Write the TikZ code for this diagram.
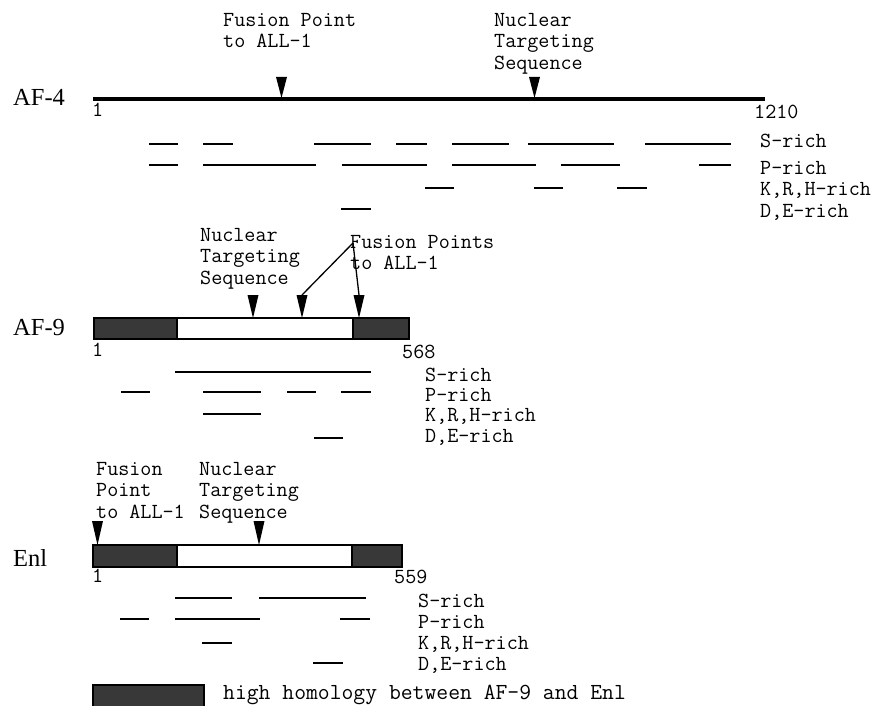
\documentclass[tikz,border=0pt]{standalone}
\usepackage{fontspec}
\newfontfamily\seriff{Liberation Serif}
\begin{document}
\begin{tikzpicture}[x=1pt,y=-1pt,
  txt/.style={inner sep=0pt,font=\ttfamily\fontsize{21.5}{21.5}\selectfont,align=left},
  protname/.style={inner sep=0pt,anchor=base west,font=\seriff\fontsize{24.5}{26}\selectfont},
  seg/.style={line width=2.6pt},
  axisline/.style={line width=4pt},
  boxline/.style={line width=1.8pt},
  dark/.style={fill=black!78},
  pinhead/.style={fill=black}]
\useasboundingbox (0,0) rectangle (875,706);

% ---------------- AF-4 ----------------
\node[protname] (af4) at (13,106) {AF-4};
\coordinate (af4s) at (93,99);
\coordinate (af4e) at (765,99);
\draw[axisline] (af4s) -- (af4e);
\node[txt,anchor=base west] (af4one) at (92,117) {1};
\node[txt,anchor=base west] (af4end) at (754,119) {1210};
\node[txt,anchor=north west] (af4fp) at (223,13) {Fusion Point\\to ALL-1};
\node[txt,anchor=north west] (af4nts) at (494,13) {Nuclear\\Targeting\\Sequence};
\fill[pinhead] (276,77) -- (287,77) -- (281.5,98) -- cycle;
\fill[pinhead] (529,77) -- (540,77) -- (534.5,98) -- cycle;

\foreach \a/\b in {149/178,203/233,314/371,396/427,452/509,528/614,645/731}
  \draw[seg] (\a,144) -- (\b,144);
\foreach \a/\b in {149/178,203/316,342/427,452/536,561/620,699/731}
  \draw[seg] (\a,165) -- (\b,165);
\foreach \a/\b in {425/454,534/563,617/647}
  \draw[seg] (\a,188) -- (\b,188);
\draw[seg] (341,209) -- (371,209);

\node[txt,anchor=base west] (af4s1) at (760,147) {S-rich};
\node[txt,anchor=base west] (af4p1) at (760,174) {P-rich};
\node[txt,anchor=base west] (af4k1) at (760,195) {K,R,H-rich};
\node[txt,anchor=base west] (af4d1) at (760,217) {D,E-rich};

% ---------------- AF-9 ----------------
\node[protname] (af9) at (13,335) {AF-9};
\fill[dark] (94,318) rectangle (177,339);
\fill[dark] (353,318) rectangle (409,339);
\draw[boxline] (94,318) rectangle (409,339);
\draw[boxline] (177,318) -- (177,339);
\draw[boxline] (353,318) -- (353,339);
\node[txt,anchor=base west] (af9one) at (92,356) {1};
\node[txt,anchor=base west] (af9end) at (402,358) {568};
\node[txt,anchor=north west] (af9nts) at (200,228) {Nuclear\\Targeting\\Sequence};
\node[txt,anchor=north west] (af9fp) at (350,235) {Fusion Points\\to ALL-1};
\coordinate (af9src) at (353,243);
\coordinate (af9p2) at (302,295);
\coordinate (af9p3) at (359,295);
\fill[pinhead] (247.5,295) -- (258.5,295) -- (253,318) -- cycle;
\fill[pinhead] (296.5,295) -- (307.5,295) -- (302,318) -- cycle;
\fill[pinhead] (353.5,295) -- (364.5,295) -- (359,318) -- cycle;
\draw[line width=1.3pt] (af9src) -- (af9p2);
\draw[line width=1.3pt] (af9src) -- (af9p3);

\draw[seg] (175,372) -- (371,372);
\foreach \a/\b in {121/150,203/261,287/316,341/371}
  \draw[seg] (\a,392) -- (\b,392);
\draw[seg] (203,414) -- (261,414);
\draw[seg] (314,438) -- (343,438);

\node[txt,anchor=base west] (af9s1) at (425,381) {S-rich};
\node[txt,anchor=base west] (af9p1) at (425,401) {P-rich};
\node[txt,anchor=base west] (af9k1) at (425,421) {K,R,H-rich};
\node[txt,anchor=base west] (af9d1) at (425,442) {D,E-rich};

% ---------------- Enl ----------------
\node[protname] (enl) at (13,566) {Enl};
\fill[dark] (93,545) rectangle (177,567);
\fill[dark] (352,545) rectangle (402,567);
\draw[boxline] (93,545) rectangle (402,567);
\draw[boxline] (177,545) -- (177,567);
\draw[boxline] (352,545) -- (352,567);
\node[txt,anchor=base west] (enlone) at (92,582) {1};
\node[txt,anchor=base west] (enlend) at (394,583) {559};
\node[txt,anchor=north west] (enlfp) at (96,462) {Fusion\\Point\\to ALL-1};
\node[txt,anchor=north west] (enlnts) at (199,462) {Nuclear\\Targeting\\Sequence};
\fill[pinhead] (92,521) -- (103,521) -- (97.5,545) -- cycle;
\fill[pinhead] (253.5,521) -- (264.5,521) -- (259,545) -- cycle;

\foreach \a/\b in {175/232,259/366}
  \draw[seg] (\a,598) -- (\b,598);
\foreach \a/\b in {120/149,175/260,340/370}
  \draw[seg] (\a,619) -- (\b,619);
\draw[seg] (202,643) -- (232,643);
\draw[seg] (313,663) -- (343,663);

\node[txt,anchor=base west] (enls1) at (418,607) {S-rich};
\node[txt,anchor=base west] (enlp1) at (418,628) {P-rich};
\node[txt,anchor=base west] (enlk1) at (418,649) {K,R,H-rich};
\node[txt,anchor=base west] (enld1) at (418,670) {D,E-rich};

% ---------------- legend ----------------
\fill[dark] (93,685) rectangle (204,712);
\draw[boxline] (93,685) rectangle (204,712);
\node[txt,anchor=base west,font=\ttfamily\fontsize{23}{23}\selectfont] (legtxt) at (223,699) {high homology between AF-9 and Enl};
\end{tikzpicture}
\end{document}
